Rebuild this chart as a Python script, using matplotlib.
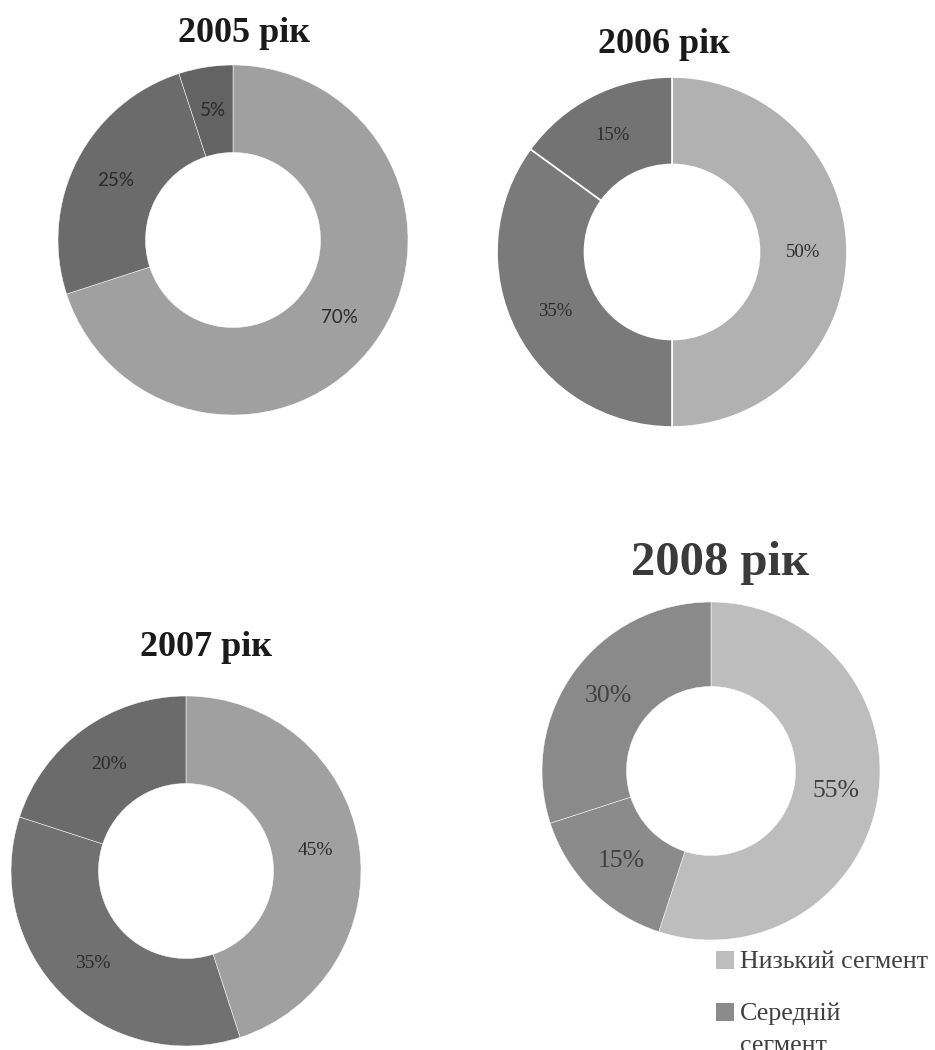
import textwrap
import matplotlib
matplotlib.use("Agg")
import matplotlib.pyplot as plt
from matplotlib.patches import Rectangle

# Market structure by price segment, share of sales (%)
years = ["2005 рік", "2006 рік", "2007 рік", "2008 рік"]
segments = ["Низький сегмент", "Середній сегмент", "Високий сегмент"]
share_2005 = [70, 25, 5]
share_2006 = [50, 35, 15]
share_2007 = [45, 35, 20]
share_2008 = [55, 15, 30]
shares = [share_2005, share_2006, share_2007, share_2008]

W, H = 935, 1050
fig = plt.figure(figsize=(W / 100, H / 100), dpi=100)
fig.patch.set_facecolor("white")

# Per-panel styling: centre (px), radius (px), fills, fonts, title placement
panels = [
    dict(c=(233, 240), R=175, colors=["#a0a0a0", "#6b6b6b", "#636363"],
         edge="white", lw=0.35, lab_font=["Lato", "DejaVu Sans"], lab_size=13.5,
         lab_color="#2a2a2a", title_xy=(244, 42), title_size=26, title_color="#1a1a1a"),
    dict(c=(672, 252), R=175, colors=["#b1b1b1", "#7a7a7a", "#737373"],
         edge="white", lw=1.2, lab_font=["Liberation Serif"], lab_size=13.5,
         lab_color="#2a2a2a", title_xy=(664, 53), title_size=26, title_color="#1a1a1a"),
    dict(c=(186, 871), R=175, colors=["#a0a0a0", "#717171", "#6b6b6b"],
         edge="white", lw=0.35, lab_font=["Liberation Serif"], lab_size=14,
         lab_color="#2a2a2a", title_xy=(206, 656), title_size=26, title_color="#1a1a1a"),
    dict(c=(711, 771), R=169, colors=["#bdbdbd", "#8b8b8b", "#8a8a8a"],
         edge="white", lw=0.35, lab_font=["Liberation Serif"], lab_size=18.5,
         lab_color="#404040", title_xy=(720, 575), title_size=35, title_color="#3a3a3a"),
]

for year, vals, p in zip(years, shares, panels):
    cx, cy = p["c"]
    R = p["R"]
    ax = fig.add_axes([(cx - R) / W, 1 - (cy + R) / H, 2 * R / W, 2 * R / H])
    ax.pie(vals, startangle=90, counterclock=False, colors=p["colors"],
           wedgeprops=dict(width=0.5, edgecolor=p["edge"], linewidth=p["lw"]),
           autopct=lambda v: f"{v:.0f}%", pctdistance=0.75,
           textprops=dict(family=p["lab_font"], fontsize=p["lab_size"],
                          color=p["lab_color"]))
    ax.set_xlim(-1, 1)
    ax.set_ylim(-1, 1)
    ax.set_aspect("equal")
    ax.axis("off")
    tx, ty = p["title_xy"]
    fig.text(tx / W, 1 - ty / H, year, ha="center", va="baseline",
             family="Liberation Serif", fontweight="bold",
             fontsize=p["title_size"], color=p["title_color"])

# Legend for the 2008 panel, running past the lower edge of the figure
legend_colors = panels[3]["colors"]
sq = 18
x_sq, x_txt = 716, 740
line_step, entry_step = 32, 52
baseline = 968
for name, col in zip(segments, legend_colors):
    lines = textwrap.wrap(name, 15)
    fig.patches.append(Rectangle((x_sq / W, 1 - (baseline + 1) / H), sq / W, sq / H,
                                 transform=fig.transFigure, facecolor=col,
                                 edgecolor="none"))
    for k, line in enumerate(lines):
        fig.text(x_txt / W, 1 - (baseline + k * line_step) / H, line, ha="left",
                 va="baseline", family="Liberation Serif", fontsize=18.7,
                 color="#404040")
    baseline += entry_step + line_step * (len(lines) - 1)

fig.savefig("out.png", dpi=100, facecolor="white")
